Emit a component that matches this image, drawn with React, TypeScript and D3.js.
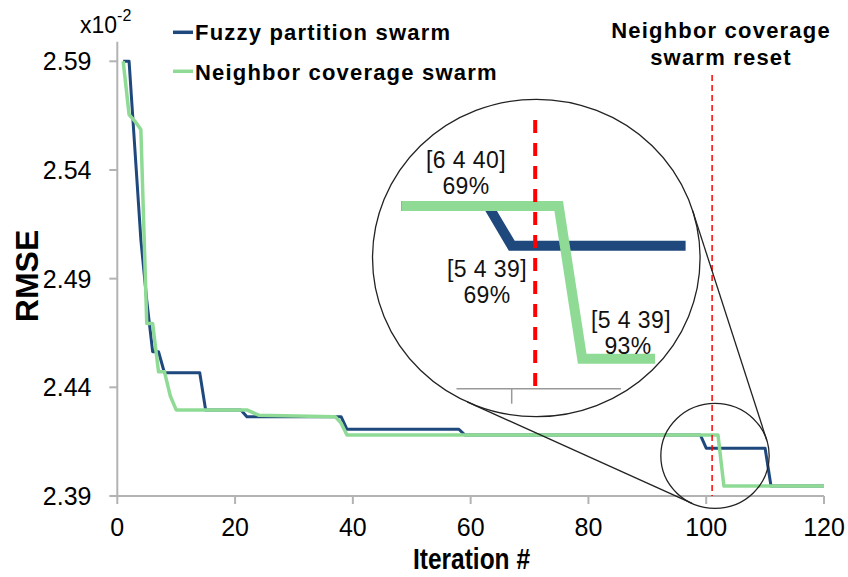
import React from "react";
import * as d3 from "d3";

// ---------- data ----------
const blueIter = [1, 2, 3, 4, 5, 6, 7, 8, 14, 15, 21, 22, 38, 39, 58, 59, 99, 100, 110, 111, 120];
const blueRmse = [2.59, 2.59, 2.549, 2.508, 2.48, 2.4564, 2.4564, 2.4467, 2.4467, 2.4296, 2.4296, 2.4265, 2.4265, 2.4207, 2.4207, 2.4181, 2.4181, 2.412, 2.412, 2.3946, 2.3946];

const greenIter = [1, 2, 3, 4, 5, 6, 7, 8, 9, 10, 22, 24, 37, 38, 39, 102, 103, 120];
const greenRmse = [2.59, 2.5655, 2.5624, 2.5586, 2.4694, 2.4694, 2.4472, 2.4472, 2.436, 2.4296, 2.4296, 2.4272, 2.4265, 2.4235, 2.4181, 2.4181, 2.3946, 2.3946];

const xTicks = [0, 20, 40, 60, 80, 100, 120];
const yTicks = [2.39, 2.44, 2.49, 2.54, 2.59];
const seriesNames = ["Fuzzy partition swarm", "Neighbor coverage swarm"];
const seriesColors = ["#1F497D", "#8FDB96"];
const resetIter = 101;
const resetLabel = ["Neighbor coverage", "swarm reset"];
const insetLabels = [
  ["[6 4 40]", "69%"],
  ["[5 4 39]", "69%"],
  ["[5 4 39]", "93%"],
];
const FONT = "'Liberation Sans', Arial, sans-serif";

function clipSeries(it: number[], v: number[], a: number, b: number): [number, number][] {
  const out: [number, number][] = [];
  const interp = (t: number) => {
    for (let i = 0; i < it.length - 1; i++) {
      if (t >= it[i] && t <= it[i + 1]) {
        const f = (t - it[i]) / (it[i + 1] - it[i]);
        return v[i] + f * (v[i + 1] - v[i]);
      }
    }
    return t < it[0] ? v[0] : v[v.length - 1];
  };
  out.push([a, interp(a)]);
  for (let i = 0; i < it.length; i++) if (it[i] > a && it[i] < b) out.push([it[i], v[i]]);
  out.push([b, interp(b)]);
  return out;
}

function tangents(c1: [number, number], r1: number, c2: [number, number], r2: number) {
  const dx = c2[0] - c1[0], dy = c2[1] - c1[1];
  const D = Math.hypot(dx, dy);
  const phi = Math.atan2(dy, dx);
  const alpha = Math.acos((r1 - r2) / D);
  return [phi + alpha, phi - alpha].map((a) => {
    const n = [Math.cos(a), Math.sin(a)];
    return [
      [c1[0] + r1 * n[0], c1[1] + r1 * n[1]],
      [c2[0] + r2 * n[0], c2[1] + r2 * n[1]],
    ];
  });
}

export default function App() {
  const W = 848, H = 577;
  const x = d3.scaleLinear().domain([0, 120]).range([117.3, 824]);
  const y = d3.scaleLinear().domain([2.39, 2.59]).range([496, 61.3]);
  const line = d3.line<[number, number]>().x((d) => x(d[0])).y((d) => y(d[1]));

  const blueData: [number, number][] = blueIter.map((t, i) => [t, blueRmse[i]]);
  const greenData: [number, number][] = greenIter.map((t, i) => [t, greenRmse[i]]);

  // inset (magnified) scales
  const xi = d3.scaleLinear().domain([100, 101]).range([511.7, 535.2]);
  const yi = d3.scaleLinear().domain([2.4181, 2.39]).range([206, 388.7]);
  const lineI = d3.line<[number, number]>().x((d) => xi(d[0])).y((d) => yi(d[1]));
  const blueInset = clipSeries(blueIter, blueRmse, 95.3, 107.4);
  const greenInset = clipSeries(greenIter, greenRmse, 95.3, 106.1);

  // ellipses (slightly stretched horizontally)
  const k = 1.032;
  const big = { cx: 536.3, cy: 258, ry: 158.7 };
  const small = { cx: 715, cy: 455.8, ry: 52.5 };
  const tl = tangents([big.cx / k, big.cy], big.ry, [small.cx / k, small.cy], small.ry).map((seg) =>
    seg.map((p) => [p[0] * k, p[1]])
  );

  const axisColor = "#B3B3B3";

  return (
    <svg width={W} height={H} style={{ position: "absolute", left: 0, top: 0, background: "#fff" }} fontFamily={FONT}>
      <rect width={W} height={H} fill="#fff" />

      {/* axes */}
      <line x1={x(0)} x2={x(0)} y1={41.7} y2={y(2.39)} stroke={axisColor} strokeWidth={2} />
      <line x1={x(0)} x2={x(120)} y1={y(2.39)} y2={y(2.39)} stroke={axisColor} strokeWidth={2} />
      {yTicks.map((t) => (
        <g key={"y" + t}>
          <line x1={x(0) - 8} x2={x(0)} y1={y(t)} y2={y(t)} stroke={axisColor} strokeWidth={2} />
          <text x={91.5} y={y(t) + 9} textAnchor="end" fontSize={25} fill="#000">
            {t.toFixed(2)}
          </text>
        </g>
      ))}
      {xTicks.map((t) => (
        <g key={"x" + t}>
          <line x1={x(t)} x2={x(t)} y1={y(2.39)} y2={y(2.39) + 8} stroke={axisColor} strokeWidth={2} />
          <text x={x(t)} y={536} textAnchor="middle" fontSize={25} fill="#000">
            {t}
          </text>
        </g>
      ))}
      <text x={80} y={33} fontSize={23} fill="#000">
        x10
        <tspan fontSize={16} dy={-12}>-2</tspan>
      </text>
      <text transform="translate(38,276) rotate(-90)" textAnchor="middle" fontSize={32} fontWeight="bold" fill="#000">
        RMSE
      </text>
      <text x={413} y={569} fontSize={29} fontWeight="bold" fill="#000" textLength={117} lengthAdjust="spacingAndGlyphs">
        Iteration #
      </text>

      {/* series */}
      <path d={line(blueData) || ""} fill="none" stroke={seriesColors[0]} strokeWidth={3} strokeLinejoin="round" />
      <path d={line(greenData) || ""} fill="none" stroke={seriesColors[1]} strokeWidth={3.5} strokeLinejoin="round" />

      {/* reset marker */}
      <line x1={x(resetIter)} x2={x(resetIter)} y1={75} y2={y(2.39)} stroke="#FF0000" strokeWidth={1.5} strokeDasharray="6,4" />
      {resetLabel.map((s, i) => (
        <text key={s} x={721} y={38 + i * 27} textAnchor="middle" fontSize={22} fontWeight="bold" letterSpacing={1.2} fill="#000">
          {s}
        </text>
      ))}

      {/* legend */}
      {seriesNames.map((s, i) => (
        <g key={s}>
          <line x1={173} x2={193} y1={32.3 + i * 39} y2={32.3 + i * 39} stroke={seriesColors[i]} strokeWidth={3.5} />
          <text x={195} y={40 + i * 40} fontSize={22} fontWeight="bold" letterSpacing={1.2} fill="#000">
            {s}
          </text>
        </g>
      ))}

      {/* zoom circles and connectors */}
      <ellipse cx={small.cx} cy={small.cy} rx={small.ry * k} ry={small.ry} fill="none" stroke="#222" strokeWidth={1.3} />
      <ellipse cx={big.cx} cy={big.cy} rx={big.ry * k} ry={big.ry} fill="none" stroke="#222" strokeWidth={1.3} />
      {tl.map((seg, i) => (
        <line key={i} x1={seg[0][0]} y1={seg[0][1]} x2={seg[1][0]} y2={seg[1][1]} stroke="#222" strokeWidth={1.3} />
      ))}

      {/* inset */}
      <line x1={xi(97.65)} x2={xi(104.65)} y1={yi(2.39)} y2={yi(2.39)} stroke="#999" strokeWidth={1.5} />
      <line x1={xi(100)} x2={xi(100)} y1={yi(2.39)} y2={yi(2.39) + 15} stroke="#999" strokeWidth={1.5} />
      <path d={lineI(blueInset) || ""} fill="none" stroke={seriesColors[0]} strokeWidth={10} />
      <path d={lineI(greenInset) || ""} fill="none" stroke={seriesColors[1]} strokeWidth={10} />
      <line x1={xi(resetIter)} x2={xi(resetIter)} y1={120} y2={390} stroke="#FF0000" strokeWidth={4} strokeDasharray="13,10" />
      {[
        [466, 168],
        [487, 277],
        [631, 328],
      ].map((p, i) => (
        <g key={i}>
          <text x={p[0]} y={p[1]} textAnchor="middle" fontSize={23} letterSpacing={0.4} fill="#111">
            {insetLabels[i][0]}
          </text>
          <text x={p[0] - (i === 2 ? 3 : 0)} y={p[1] + 26} textAnchor="middle" fontSize={23} letterSpacing={0.4} fill="#111">
            {insetLabels[i][1]}
          </text>
        </g>
      ))}
    </svg>
  );
}
